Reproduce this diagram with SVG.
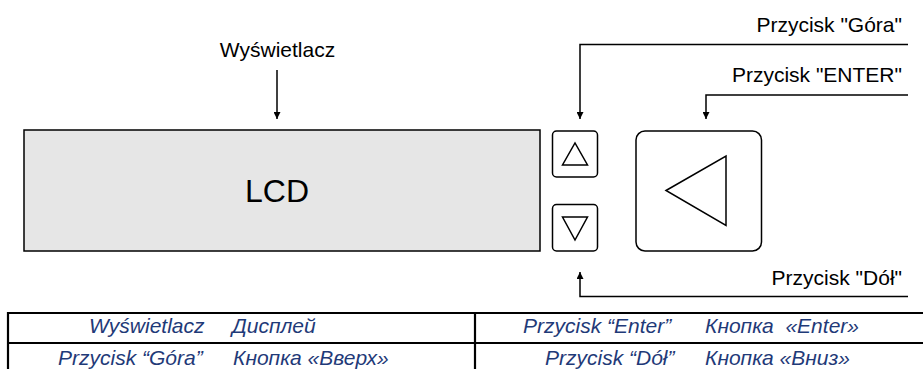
<svg xmlns="http://www.w3.org/2000/svg" width="923" height="369" viewBox="0 0 923 369">
<style>
.lbl{font-family:"Liberation Sans",Arial,sans-serif;font-size:21px;fill:#000}
.tbl{font-family:"Liberation Sans",Arial,sans-serif;font-size:21px;font-style:italic;fill:#1F3A78}
.box{fill:#fff;stroke:#000;stroke-width:1.5}
.tri{fill:none;stroke:#000;stroke-width:1.5}
.conn{fill:none;stroke:#000;stroke-width:1.5}
.grid{stroke:#000;stroke-width:2.2;fill:none}
</style>
<defs>
<marker id="arr" viewBox="0 0 10 10" refX="10" refY="5" markerWidth="7" markerHeight="7" markerUnits="userSpaceOnUse" orient="auto">
<path d="M0,0 L10,5 L0,10 z" fill="#000"/>
</marker>
</defs>
<rect width="923" height="369" fill="#fff"/>
<g id="lcd">
<rect x="24" y="130" width="516" height="121" fill="#E6E6E6" stroke="#000" stroke-width="1.5"/>
<text x="277" y="201.5" font-family="Liberation Sans,Arial,sans-serif" font-size="32" text-anchor="middle">LCD</text>
</g>
<g id="btn-up">
<rect class="box" x="552.5" y="131" width="45" height="46" rx="4"/>
<polygon class="tri" points="562.5,165 587.5,165 575,143"/>
</g>
<g id="btn-down">
<rect class="box" x="552.5" y="204.5" width="45" height="46.5" rx="4"/>
<polygon class="tri" points="562.5,217 587.5,217 575,240"/>
</g>
<g id="btn-enter">
<rect class="box" x="636" y="131" width="125.5" height="120" rx="9"/>
<polygon class="tri" points="666,190.5 726,156 726,225.5"/>
</g>
<g id="labels">
<text class="lbl" x="277.5" y="56.5" text-anchor="middle">Wyświetlacz</text>
<text class="lbl" x="902" y="32" text-anchor="end">Przycisk "Góra"</text>
<text class="lbl" x="902" y="82" text-anchor="end">Przycisk "ENTER"</text>
<text class="lbl" x="902" y="285" text-anchor="end">Przycisk "Dół"</text>
</g>
<g id="connectors">
<path class="conn" d="M277,70 V119" marker-end="url(#arr)"/>
<path class="conn" d="M908,44.5 H580 V119" marker-end="url(#arr)"/>
<path class="conn" d="M908,95 H706 V119" marker-end="url(#arr)"/>
<path class="conn" d="M908,296.5 H580 V272" marker-end="url(#arr)"/>
</g>
<g id="table">
<path class="grid" d="M8,313 H923 M8,343 H923 M8,312 V369 M475,313 V369"/>
<text class="tbl" x="89" y="333">Wyświetlacz</text>
<text class="tbl" x="232" y="333">Дисплей</text>
<text class="tbl" x="58" y="365">Przycisk “Góra”</text>
<text class="tbl" x="233" y="365">Кнопка «Вверх»</text>
<text class="tbl" x="523" y="333">Przycisk “Enter”</text>
<text class="tbl" x="705" y="333" xml:space="preserve">Кнопка  «Enter»</text>
<text class="tbl" x="545" y="365">Przycisk “Dół”</text>
<text class="tbl" x="705" y="365">Кнопка «Вниз»</text>
</g>
</svg>
